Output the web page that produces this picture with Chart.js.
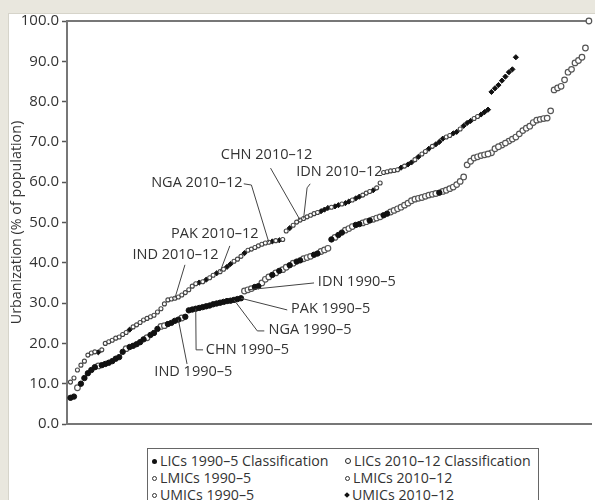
<!DOCTYPE html>
<html><head><meta charset="utf-8">
<script src="https://cdn.jsdelivr.net/npm/chart.js@4/dist/chart.umd.min.js"></script>
<style>
html,body{margin:0;padding:0;width:595px;height:500px;overflow:hidden;background:#e9e7de;}
#panel{position:absolute;left:8px;top:13px;width:600px;height:500px;background:#fff;border-left:1px solid #d6d4ca;border-top:1px solid #d6d4ca;}
#c{position:absolute;left:0;top:0;}
#legend{position:absolute;left:147px;top:448px;width:390px;height:70px;border:1px solid #666;background:#fff;font:14.2px 'Open Sans',sans-serif;color:#333;}
.it{position:absolute;white-space:nowrap;line-height:16px;}
.mk{display:inline-block;vertical-align:middle;margin-right:3px;position:relative;top:-1px;}
.fc{width:5px;height:5px;border-radius:50%;background:#111;}
.oc{width:3px;height:3px;border-radius:50%;border:1px solid #333;background:#fff;}
.od{width:4px;height:4px;border-radius:50%;border:1.3px solid #222;background:#fff;}
.fd{width:4px;height:4px;background:#111;transform:rotate(45deg);}
</style></head>
<body>
<div id="panel"></div>
<canvas id="c" width="595" height="500"></canvas>
<div id="legend">
 <div class="it" style="left:4px;top:4px"><span class="mk fc"></span>LICs 1990–5 Classification</div>
 <div class="it" style="left:197px;top:4px"><span class="mk od"></span>LICs 2010–12 Classification</div>
 <div class="it" style="left:4px;top:21px"><span class="mk oc"></span>LMICs 1990–5</div>
 <div class="it" style="left:197px;top:21px"><span class="mk oc"></span>LMICs 2010–12</div>
 <div class="it" style="left:4px;top:38px"><span class="mk oc"></span>UMICs 1990–5</div>
 <div class="it" style="left:197px;top:38px"><span class="mk fd"></span>UMICs 2010–12</div>
</div>
<script>
// Urbanization (% of population), countries ranked; 1990-5 series
const lowerValues = [
 6.5, 6.8, 9.0, 10.0, 11.4, 12.6, 13.4, 14.1, 14.4, 14.6,
 14.9, 15.2, 15.6, 16.2, 16.6, 17.9, 18.7, 19.1, 19.4, 19.8,
 20.3, 21.0, 21.4, 22.1, 22.6, 23.6, 24.2, 24.4, 24.8, 25.1,
 25.6, 25.9, 26.3, 26.6, 28.2, 28.4, 28.6, 28.8, 29.0, 29.2,
 29.4, 29.7, 29.9, 30.1, 30.3, 30.5, 30.6, 30.8, 31.0, 31.2,
 33.0, 33.3, 33.6, 34.0, 34.2, 35.0, 35.9, 36.5, 37.0, 37.5,
 38.0, 38.3, 38.9, 39.4, 39.9, 40.3, 40.6, 41.0, 41.3, 41.6,
 42.0, 42.3, 42.8, 43.2, 43.6, 45.8, 46.3, 46.9, 47.5, 48.1,
 48.5, 49.0, 49.4, 49.6, 49.9, 50.2, 50.5, 50.8, 51.1, 51.4,
 51.8, 52.2, 52.6, 53.0, 53.4, 53.8, 54.3, 54.8, 55.4, 55.8,
 56.0, 56.2, 56.5, 56.8, 57.0, 57.2, 57.4, 57.7, 58.0, 58.4,
 58.8, 59.4, 60.2, 61.3, 64.3, 65.2, 66.0, 66.3, 66.6, 66.8,
 67.0, 67.3, 68.3, 68.8, 69.2, 69.7, 70.2, 70.7, 71.2, 72.0,
 72.8, 73.4, 73.9, 74.8, 75.4, 75.6, 75.8, 75.9, 77.7, 82.9,
 83.4, 83.8, 85.4, 87.3, 88.0, 89.6, 90.2, 91.0, 93.3, 100.0
];
// income class (1990-5): L = LIC, M = LMIC, U = UMIC
const lowerClass = (
 "LLMLLLLLML" + "LLLLLLMLLL" + "LLMLLLMMLL" + "LLMLLLLLLL" + "LLLLLLLLLL" +
 "MMMLLMMMLM" + "LMMLMLLMMM" + "LLMMMLMLLM" + "MMLLMMLMMM" + "LLMMMMMMMM" +
 "MMMMMMLMMM" + "MMMMMMMMMM" + "MUMMUMUUUU" + "UUUUUUUUUU" + "UUUUUUUUUU").split("");

// 2010-12 series
const upperValues = [
 10.4, 11.4, 13.4, 14.6, 15.6, 17.1, 17.6, 17.9, 17.8, 18.4,
 20.0, 20.4, 20.8, 21.3, 21.6, 22.2, 22.7, 23.4, 24.1, 24.6,
 25.2, 25.8, 26.2, 26.6, 27.0, 27.8, 28.6, 29.8, 30.8, 31.0,
 31.2, 31.5, 32.0, 32.6, 33.3, 34.2, 34.8, 35.1, 35.3, 35.8,
 36.3, 36.9, 37.4, 37.8, 38.4, 39.0, 39.7, 40.4, 40.9, 41.6,
 42.4, 43.1, 43.4, 43.8, 44.2, 44.6, 44.9, 45.1, 45.3, 45.5,
 45.6, 45.8, 47.9, 48.6, 49.3, 50.1, 50.6, 51.0, 51.4, 51.8,
 52.2, 52.5, 52.8, 53.2, 53.6, 53.8, 54.0, 54.3, 54.6, 54.8,
 55.2, 55.6, 56.0, 56.4, 56.8, 57.3, 57.7, 58.0, 58.6, 59.8,
 62.4, 62.6, 62.8, 62.9, 63.1, 63.6, 64.0, 64.4, 64.9, 65.6,
 66.3, 67.0, 67.6, 68.3, 68.9, 69.4, 70.0, 70.8, 71.2, 71.6,
 72.1, 72.5, 73.2, 74.0, 74.7, 75.2, 75.8, 76.3, 76.8, 77.4,
 78.0, 82.4, 83.3, 84.1, 85.2, 86.2, 87.3, 88.0, 91.0
];
const upperClass = (
 "LLLLLLLLUL" + "LLLLLLLULL" + "LLLLLLLLLL" + "LLLLLLLUMU" + "LMULLUUMLM" +
 "UMLLMMLMUM" + "ULMUMLMMMM" + "MMUUUMUUMU" + "UMUUMMMUMM" + "MMMMMUMUUM" +
 "UMMUMUUUMM" + "UUMUUUMMUU" + "UUUUUUUUU").split("");

const yTicks = [0,10,20,30,40,50,60,70,80,90,100];

// country call-outs: series, rank index (1-based), label
const callouts = [
 {text:"CHN 2010–12", series:"upper", rank:67, tx:44.2, ty:66.7, path:[[58.5,63.5]]},
 {text:"IDN 2010–12", series:"upper", rank:68, tx:65.9, ty:62.5, path:[[69.9,59.6],[69.0,58.6]]},
 {text:"NGA 2010–12", series:"upper", rank:58, tx:24.2, ty:59.8, path:[[50.8,59.6],[53.0,59.3]]},
 {text:"PAK 2010–12", series:"upper", rank:44, tx:29.9, ty:47.1, path:[[46.8,44.2]]},
 {text:"IND 2010–12", series:"upper", rank:31, tx:18.8, ty:41.9, path:[[33.9,39.5]]},
 {text:"IDN 1990–5", series:"lower", rank:52, tx:72.1, ty:35.2, path:[[71.0,35.0]]},
 {text:"PAK 1990–5", series:"lower", rank:50, tx:64.4, ty:28.5, path:[[63.3,28.3]]},
 {text:"NGA 1990–5", series:"lower", rank:48, tx:57.9, ty:23.3, path:[[56.7,23.1],[54.7,23.1]]},
 {text:"CHN 1990–5", series:"lower", rank:37, tx:39.9, ty:18.4, path:[[39.1,18.4],[37.1,18.4]]},
 {text:"IND 1990–5", series:"lower", rank:32, tx:25.1, ty:12.9, path:[[34.5,14.9]]}
];

function pts(values, classes, code){
  const out=[];
  values.forEach((v,i)=>{ if(classes[i]===code) out.push({x:i+1,y:v}); });
  return out;
}
const series = {lower: lowerValues, upper: upperValues};

const FONT = "'Open Sans', sans-serif";
const datasets = [
 {label:"LICs 1990–5 Classification", data:pts(lowerValues,lowerClass,"L"), pointStyle:"circle", pointRadius:2.7, backgroundColor:"#111", borderColor:"#111", borderWidth:1},
 {label:"LMICs 1990–5", data:pts(lowerValues,lowerClass,"M"), pointStyle:"circle", pointRadius:2.8, backgroundColor:"#fff", borderColor:"#555", borderWidth:1.2},
 {label:"UMICs 1990–5", data:pts(lowerValues,lowerClass,"U"), pointStyle:"circle", pointRadius:2.8, backgroundColor:"#fff", borderColor:"#555", borderWidth:1.2},
 {label:"LICs 2010–12 Classification", data:pts(upperValues,upperClass,"L"), pointStyle:"circle", pointRadius:2.0, backgroundColor:"#fff", borderColor:"#444", borderWidth:1.1},
 {label:"LMICs 2010–12", data:pts(upperValues,upperClass,"M"), pointStyle:"circle", pointRadius:2.0, backgroundColor:"#fff", borderColor:"#444", borderWidth:1.1},
 {label:"UMICs 2010–12", data:pts(upperValues,upperClass,"U"), pointStyle:"rectRot", pointRadius:2.6, backgroundColor:"#111", borderColor:"#111", borderWidth:1}
].map(d=>Object.assign(d,{clip:false, showLine:false, pointHoverRadius:d.pointRadius}));

const calloutPlugin = {
  id:"callouts",
  afterDatasetsDraw(chart){
    const {ctx, scales:{x,y}} = chart;
    ctx.save();
    ctx.strokeStyle="#444"; ctx.lineWidth=1;
    ctx.fillStyle="#333"; ctx.font="14.5px "+FONT; ctx.textBaseline="middle"; ctx.textAlign="left";
    callouts.forEach(c=>{
      const tv = series[c.series][c.rank-1];
      const p = c.path.map(q=>[x.getPixelForValue(q[0]), y.getPixelForValue(q[1])]);
      p.push([x.getPixelForValue(c.rank), y.getPixelForValue(tv)]);
      ctx.beginPath(); ctx.moveTo(p[0][0],p[0][1]);
      for(let i=1;i<p.length;i++) ctx.lineTo(p[i][0],p[i][1]);
      ctx.stroke();
      ctx.fillText(c.text, x.getPixelForValue(c.tx), y.getPixelForValue(c.ty));
    });
    ctx.restore();
  }
};

const AX = "#777";
new Chart(document.getElementById("c"), {
  type:"scatter",
  data:{datasets},
  options:{
    responsive:false, animation:false, events:[],
    layout:{padding:{left:0, top:21, right:0, bottom:76}},
    plugins:{legend:{display:false}, tooltip:{enabled:false}},
    scales:{
      x:{type:"linear", position:"bottom", min:0, max:150.6,
         ticks:{display:false}, grid:{display:false, drawTicks:false},
         border:{display:true, color:AX, width:2}, afterFit(s){s.height=0;}},
      xTop:{type:"linear", position:"top", min:0, max:150.6,
         ticks:{display:false}, grid:{display:false, drawTicks:false},
         border:{display:true, color:AX, width:2}, afterFit(s){s.height=0;}},
      y:{type:"linear", min:0, max:100,
         afterBuildTicks(s){ s.ticks = yTicks.map(v=>({value:v})); },
         ticks:{callback:v=>Number(v).toFixed(1), font:{family:FONT, size:15}, color:"#333", padding:3},
         grid:{drawOnChartArea:false, drawTicks:true, tickLength:5, color:"#555", tickWidth:1.5},
         border:{display:true, color:AX, width:2},
         title:{display:true, text:"Urbanization (% of population)", font:{family:FONT, size:14.3}, color:"#333", padding:{top:8,bottom:0}},
         afterFit(s){s.width=67;}}
    }
  },
  plugins:[calloutPlugin]
});
</script>
</body></html>
